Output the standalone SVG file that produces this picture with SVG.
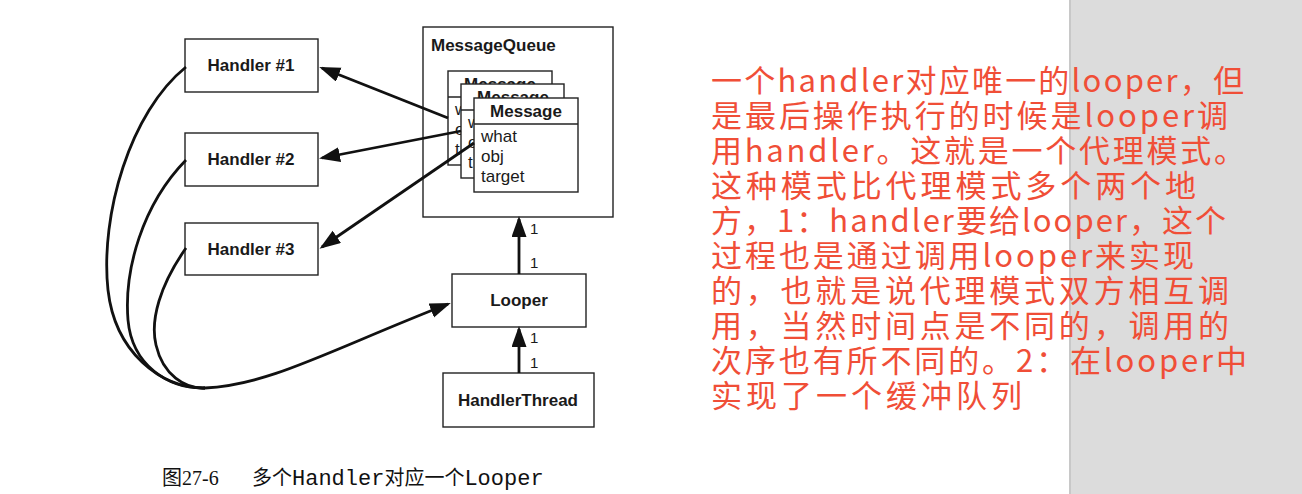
<svg xmlns="http://www.w3.org/2000/svg" width="1302" height="494" viewBox="0 0 1302 494">
<style>
.box{fill:#fff;stroke:#222;stroke-width:1.4}
.lbl{font-family:"Liberation Sans",Arial,sans-serif;font-size:17px;font-weight:bold;fill:#1a1a1a;text-anchor:middle}
.attr{font-family:"Liberation Sans",Arial,sans-serif;font-size:17px;fill:#1a1a1a}
.num{font-family:"Liberation Sans",Arial,sans-serif;font-size:15px;fill:#1a1a1a}
.con{fill:none;stroke:#111;stroke-width:2.8}
.note{font-family:"Noto Sans CJK SC",sans-serif;font-size:31px;fill:#f04e37}
</style>
<defs>
<marker id="ah" markerUnits="userSpaceOnUse" markerWidth="22" markerHeight="16" refX="18" refY="7.5" orient="auto">
<path d="M0,0 L21,7.5 L0,15 z" fill="#111"/>
</marker>
<clipPath id="clipBack"><rect x="448" y="71" width="104" height="13"/></clipPath>
<clipPath id="clipMid"><rect x="461" y="84" width="103" height="14"/></clipPath>
</defs>
<rect x="0" y="0" width="1302" height="494" fill="#fff"/>
<rect x="1069" y="0" width="233" height="494" fill="#dcdcdc"/>
<rect x="1069" y="0" width="2" height="494" fill="#c8c8c8"/>

<g id="messagequeue">
<rect class="box" x="423" y="27" width="190" height="190"/>
<text class="lbl" x="431" y="51" style="text-anchor:start">MessageQueue</text>
</g>
<g id="message-back">
<rect class="box" x="448" y="71" width="104" height="94"/>
<line x1="448" y1="97" x2="552" y2="97" stroke="#222" stroke-width="1.4"/>
<text class="lbl" x="500" y="90" clip-path="url(#clipBack)">Message</text>
<text class="attr" x="455" y="115">w</text>
<text class="attr" x="455" y="135">o</text>
<text class="attr" x="455" y="155">t</text>
</g>
<g id="message-mid">
<rect class="box" x="461" y="84" width="103" height="94"/>
<line x1="461" y1="110" x2="564" y2="110" stroke="#222" stroke-width="1.4"/>
<text class="lbl" x="513" y="103" clip-path="url(#clipMid)">Message</text>
<text class="attr" x="468" y="128">w</text>
<text class="attr" x="468" y="148">o</text>
<text class="attr" x="468" y="168">t</text>
</g>
<g id="message-front">
<rect class="box" x="474" y="98" width="104" height="94"/>
<line x1="474" y1="124" x2="578" y2="124" stroke="#222" stroke-width="1.4"/>
<text class="lbl" x="526" y="117">Message</text>
<text class="attr" x="481" y="142">what</text>
<text class="attr" x="481" y="162">obj</text>
<text class="attr" x="481" y="182">target</text>
</g>

<g id="handler1">
<rect class="box" x="185" y="39" width="133" height="53"/>
<text class="lbl" x="251" y="71">Handler #1</text>
</g>
<g id="handler2">
<rect class="box" x="185" y="133" width="133" height="53"/>
<text class="lbl" x="251" y="165">Handler #2</text>
</g>
<g id="handler3">
<rect class="box" x="185" y="223" width="133" height="52"/>
<text class="lbl" x="251" y="255">Handler #3</text>
</g>
<g id="looper">
<rect class="box" x="452" y="274" width="134" height="53"/>
<text class="lbl" x="519" y="306">Looper</text>
</g>
<g id="handlerthread">
<rect class="box" x="443" y="373" width="151" height="54"/>
<text class="lbl" x="518" y="406">HandlerThread</text>
</g>

<g id="connectors">
<path class="con" d="M448,118 L322,68" marker-end="url(#ah)"/>
<path class="con" d="M461,131 L322,158" marker-end="url(#ah)"/>
<path class="con" d="M474,143 L322,247" marker-end="url(#ah)"/>
<path class="con" d="M186,67 C130,112 100,215 108,290 C115,352 160,388 205,388"/>
<path class="con" d="M186,160 C142,205 124,270 128,320 C132,365 168,389 205,388"/>
<path class="con" d="M186,248 C160,285 150,320 156,345 C163,375 185,389 205,388"/>
<path class="con" d="M205,388 C270,385 330,350 448,304" marker-end="url(#ah)"/>
<path class="con" d="M519,274 L519,219" marker-end="url(#ah)"/>
<path class="con" d="M519,373 L519,329" marker-end="url(#ah)"/>
<text class="num" x="530" y="234">1</text>
<text class="num" x="530" y="268">1</text>
<text class="num" x="530" y="343">1</text>
<text class="num" x="530" y="368">1</text>
</g>

<g id="caption">
<text y="485" font-size="20" fill="#111"><tspan x="162" font-family="'Noto Sans CJK SC',sans-serif">图</tspan><tspan font-family="'Liberation Serif',serif">27-6</tspan><tspan x="252" font-family="'Noto Sans CJK SC',sans-serif">多个</tspan><tspan font-family="'Liberation Mono',monospace" font-size="22">Handler</tspan><tspan font-family="'Noto Sans CJK SC',sans-serif">对应一个</tspan><tspan font-family="'Liberation Mono',monospace" font-size="22">Looper</tspan></text>
</g>

<g id="note">
<text class="note" x="711" y="92" textLength="533" lengthAdjust="spacing">一个handler对应唯一的looper，但</text>
<text class="note" x="711" y="127" textLength="517" lengthAdjust="spacing">是最后操作执行的时候是looper调</text>
<text class="note" x="711" y="162" textLength="534" lengthAdjust="spacing">用handler。这就是一个代理模式。</text>
<text class="note" x="711" y="197" textLength="485" lengthAdjust="spacing">这种模式比代理模式多个两个地</text>
<text class="note" x="711" y="232" textLength="515" lengthAdjust="spacing">方，1：handler要给looper，这个</text>
<text class="note" x="711" y="267" textLength="483" lengthAdjust="spacing">过程也是通过调用looper来实现</text>
<text class="note" x="711" y="302" textLength="518" lengthAdjust="spacing">的，也就是说代理模式双方相互调</text>
<text class="note" x="711" y="337" textLength="518" lengthAdjust="spacing">用，当然时间点是不同的，调用的</text>
<text class="note" x="711" y="372" textLength="536" lengthAdjust="spacing">次序也有所不同的。2：在looper中</text>
<text class="note" x="711" y="407" textLength="311" lengthAdjust="spacing">实现了一个缓冲队列</text>
</g>
</svg>
